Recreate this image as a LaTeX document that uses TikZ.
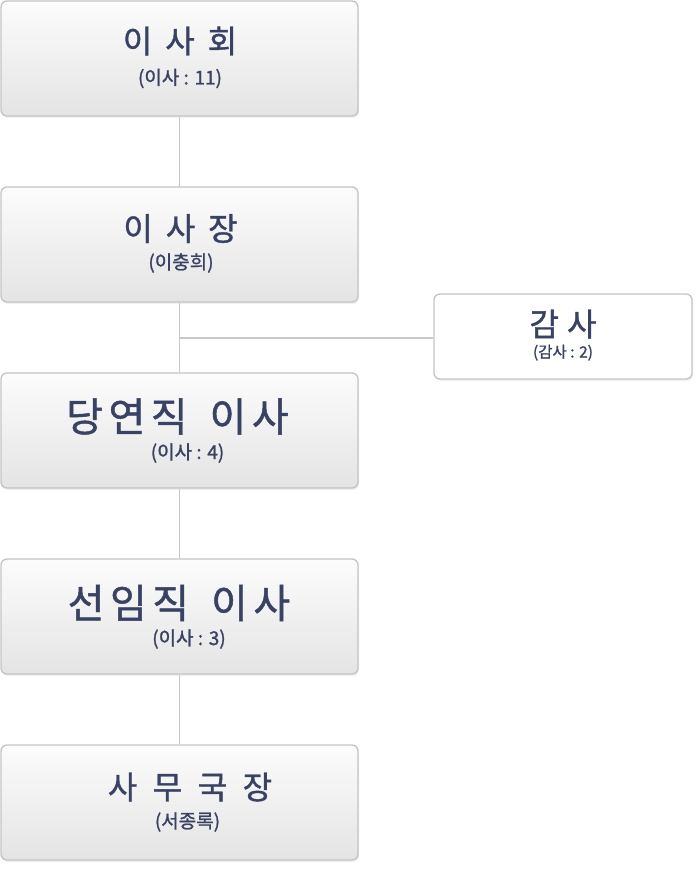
\documentclass[tikz,border=0pt]{standalone}
\usepackage{fontspec}
\setmainfont{Noto Sans CJK KR}[FakeBold=1.2]
\newfontfamily\krbold{Noto Sans CJK KR}[FakeBold=1.2]
\usetikzlibrary{shadows}
\definecolor{txt}{RGB}{58,66,100}
\definecolor{bord}{RGB}{196,196,196}
\definecolor{lnk}{RGB}{200,200,200}
\definecolor{topc}{RGB}{252,252,252}
\definecolor{botc}{RGB}{228,228,228}
\newcommand{\gp}[1]{\hspace{#1pt}}
\tikzset{
  mainbox/.style={draw=bord, line width=1.3pt, rounded corners=6pt,
    top color=topc, bottom color=botc, minimum width=357pt, minimum height=115pt,
    inner sep=0pt, drop shadow={shadow xshift=1pt, shadow yshift=-2pt, opacity=0.12}},
  sidebox/.style={draw=bord, line width=1.3pt, rounded corners=6pt,
    fill=white, minimum width=258pt, minimum height=85pt,
    inner sep=0pt, drop shadow={shadow xshift=1pt, shadow yshift=-2pt, opacity=0.12}},
  ttl/.style={text=txt, inner sep=0pt, anchor=base, font=\krbold\fontsize{32}{32}\selectfont},
  bigttl/.style={text=txt, inner sep=0pt, anchor=base, font=\krbold\fontsize{40}{40}\selectfont},
  sub/.style={text=txt, inner sep=0pt, anchor=base, font=\fontsize{19}{19}\selectfont},
  smallsub/.style={text=txt, inner sep=0pt, anchor=base, font=\fontsize{15.5}{15.5}\selectfont},
  conn/.style={draw=lnk, line width=1.2pt}
}
\begin{document}
\begin{tikzpicture}[x=1pt,y=-1pt]
\useasboundingbox (0,0) rectangle (700,869);
% boxes
\node[mainbox] (b1) at (179.5,58.5) {};
\node[mainbox] (b2) at (179.5,244.5) {};
\node[mainbox] (b3) at (179.5,430.5) {};
\node[mainbox] (b4) at (179.5,616.5) {};
\node[mainbox] (b5) at (179.5,802.5) {};
\node[sidebox] (s1) at (563,336.5) {};
% connectors
\coordinate (j) at (179.5,338);
\draw[conn] (b1.south) -- (b2.north);
\draw[conn] (b2.south) -- (b3.north);
\draw[conn] (b3.south) -- (b4.north);
\draw[conn] (b4.south) -- (b5.north);
\draw[conn] (j) -- (j -| s1.west);
% texts
\node[ttl] (t1) at (180,53) {이\gp{13}사\gp{13}회};
\node[sub] (u1) at (180,84.5) {(이사 : 11)};
\node[ttl] (t2) at (180.5,240.5) {이\gp{13}사\gp{13}장};
\node[sub] (u2) at (181,269) {(이충희)};
\node[bigttl] (t3) at (177.5,431.5) {당\gp{5.5}연\gp{5.5}직\gp{22}이\gp{5.5}사};
\node[sub] (u3) at (187.5,459) {(이사 : 4)};
\node[bigttl] (t4) at (179,618) {선\gp{5.5}임\gp{5.5}직\gp{22}이\gp{5.5}사};
\node[sub] (u4) at (189,645) {(이사 : 3)};
\node[ttl] (t5) at (190,799) {사\gp{15.5}무\gp{15.5}국\gp{15.5}장};
\node[sub] (u5) at (187.5,828) {(서종록)};
\node[ttl] (t6) at (563,336) {감\gp{8}사};
\node[smallsub] (u6) at (563,357.5) {(감사 : 2)};
\end{tikzpicture}
\end{document}
